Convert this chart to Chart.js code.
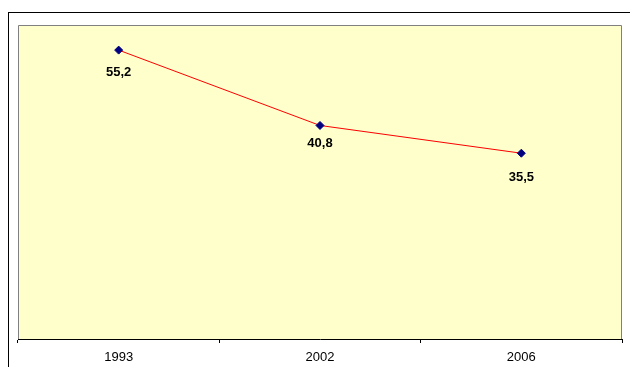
<!DOCTYPE html>
<html>
<head>
<meta charset="utf-8">
<script src="https://cdn.jsdelivr.net/npm/chart.js@4"></script>
<style>
  html, body { margin: 0; padding: 0; background: #ffffff; }
  canvas { display: block; }
</style>
</head>
<body>
<canvas id="chart" width="630" height="367"></canvas>
<script>
// Years on the category axis and the value recorded for each
const years = ['1993', '2002', '2006'];
const values = [55.2, 40.8, 35.5];
// Printed value labels (decimal comma)
const valueLabels = ['55,2', '40,8', '35,5'];

// Outer frame of the chart and filled plot area with its gray border
const framePlugin = {
  id: 'frame',
  beforeDraw(chart) {
    const ctx = chart.ctx;
    const a = chart.chartArea;
    ctx.save();
    ctx.strokeStyle = '#000000';
    ctx.lineWidth = 1;
    ctx.strokeRect(8.5, 12.5, chart.width + 10, chart.height + 10);
    ctx.fillStyle = '#FFFFCC';
    ctx.fillRect(a.left, a.top, a.right - a.left, a.bottom - a.top);
    ctx.strokeStyle = '#808080';
    ctx.beginPath();
    ctx.moveTo(a.left + 0.5, a.bottom);
    ctx.lineTo(a.left + 0.5, a.top + 0.5);
    ctx.lineTo(a.right - 0.5, a.top + 0.5);
    ctx.lineTo(a.right - 0.5, a.bottom);
    ctx.stroke();
    ctx.restore();
  }
};

// Bold value labels under each point
const valueLabelPlugin = {
  id: 'valueLabels',
  afterDatasetsDraw(chart, args, opts) {
    const ctx = chart.ctx;
    const meta = chart.getDatasetMeta(0);
    ctx.save();
    ctx.font = 'bold 13px "Liberation Sans", Arial, sans-serif';
    ctx.fillStyle = '#000000';
    ctx.textAlign = 'center';
    ctx.textBaseline = 'middle';
    meta.data.forEach((pt, i) => {
      const dy = opts.offsets[i];
      ctx.fillText(valueLabels[i], pt.x, pt.y + dy);
    });
    ctx.restore();
  }
};

new Chart(document.getElementById('chart'), {
  type: 'line',
  data: {
    labels: years,
    datasets: [{
      data: values,
      borderColor: '#FF0000',
      borderWidth: 1,
      pointStyle: 'rectRot',
      pointRadius: 4,
      pointHoverRadius: 4,
      pointBackgroundColor: '#000080',
      pointBorderColor: '#000080',
      pointBorderWidth: 1,
      tension: 0
    }]
  },
  options: {
    responsive: false,
    animation: false,
    events: [],
    layout: { padding: { left: 18, top: 25, right: 8, bottom: 0 } },
    plugins: {
      legend: { display: false },
      tooltip: { enabled: false },
      valueLabels: { offsets: [22, 18, 24] }
    },
    scales: {
      x: {
        offset: true,
        afterFit(scale) { scale.height = 28; },
        grid: {
          offset: true,
          drawOnChartArea: false,
          drawTicks: true,
          tickLength: 4,
          color: '#000000'
        },
        border: { display: true, color: '#000000', width: 1 },
        ticks: {
          color: '#000000',
          padding: 7,
          maxRotation: 0,
          font: { family: '"Liberation Sans", Arial, sans-serif', size: 13 }
        }
      },
      y: {
        display: false,
        min: 0,
        max: 60
      }
    }
  },
  plugins: [framePlugin, valueLabelPlugin]
});
</script>
</body>
</html>
